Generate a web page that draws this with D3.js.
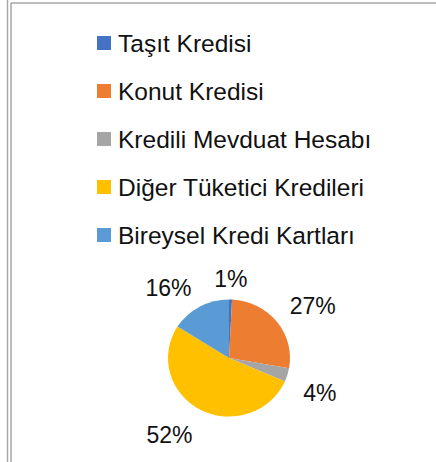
<!DOCTYPE html>
<html>
<head>
<meta charset="utf-8">
<script src="https://cdn.jsdelivr.net/npm/d3@7"></script>
<style>
  html, body { margin: 0; padding: 0; background: #fff; }
  svg { display: block; font-family: "Liberation Sans", Arial, sans-serif; }
</style>
</head>
<body>
<svg id="chart"></svg>
<script>
// data
var categories = ["Taşıt Kredisi", "Konut Kredisi", "Kredili Mevduat Hesabı", "Diğer Tüketici Kredileri", "Bireysel Kredi Kartları"];
var values = [0.8, 27.0, 3.8, 52.4, 16.0];
var colors = ["#4472C4", "#ED7D31", "#A5A5A5", "#FFC000", "#5B9BD5"];

var width = 436, height = 462;
var svg = d3.select("#chart").attr("width", width).attr("height", height);

// frame lines (chart border, cut)
svg.append("line").attr("x1", 7.5).attr("x2", 7.5).attr("y1", 0).attr("y2", height)
  .attr("stroke", "#a6a6a6").attr("stroke-width", 1.5);
svg.append("line").attr("x1", 11).attr("x2", 11).attr("y1", 3).attr("y2", height)
  .attr("stroke", "#a6a6a6").attr("stroke-width", 1.5);
svg.append("line").attr("x1", 11).attr("x2", width).attr("y1", 3).attr("y2", 3)
  .attr("stroke", "#a6a6a6").attr("stroke-width", 1.5);

// legend
var legend = svg.append("g").attr("transform", "translate(97,43)");
var row = legend.selectAll("g").data(categories).enter().append("g")
  .attr("transform", function(d, i) { return "translate(0," + (i * 48) + ")"; });
row.append("rect").attr("x", 0).attr("y", -7).attr("width", 14).attr("height", 14)
  .attr("fill", function(d, i) { return colors[i]; });
row.append("text").attr("x", 21).attr("y", 9)
  .attr("font-size", 24.5).attr("fill", "#111")
  .text(function(d) { return d; });

// pie
var cx = 229, cy = 358, r = 61;
var total = d3.sum(values);
var pie = d3.pie().sort(null).value(function(d) { return d; });
var arcs = pie(values);
var arc = d3.arc().innerRadius(0).outerRadius(r);

var g = svg.append("g").attr("transform", "translate(" + cx + "," + cy + ")");
var pg = g.append("g").attr("transform", "scale(1,0.96)");
pg.selectAll("path").data(arcs).enter().append("path")
  .attr("d", arc)
  .attr("fill", function(d, i) { return colors[i]; })
  .attr("stroke", "none");

// labels
var fmt = d3.format(".0%");
var lr = 74;
g.selectAll("text").data(arcs).enter().append("text")
  .attr("font-size", 23)
  .attr("fill", "#111")
  .each(function(d) {
    var a = (d.startAngle + d.endAngle) / 2;
    var sx = Math.sin(a), cy2 = -Math.cos(a);
    var x = sx * lr * 1.05, y = cy2 * lr * 0.96;
    var anchor = Math.abs(sx) < 0.3 ? "middle" : (sx > 0 ? "start" : "end");
    var dy = cy2 < 0 ? 0 : 22;
    d3.select(this).attr("x", x).attr("y", y + dy).attr("text-anchor", anchor)
      .text(fmt(d.data / total));
  });
</script>
</body>
</html>
